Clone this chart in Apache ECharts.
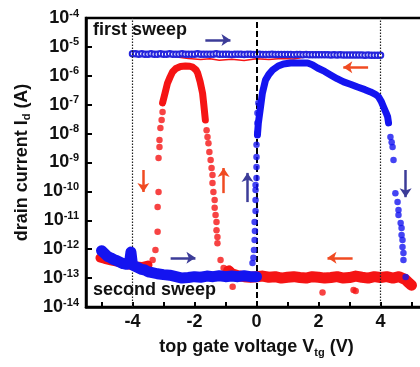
<!DOCTYPE html>
<html>
<head>
<meta charset="utf-8">
<script src="https://cdn.jsdelivr.net/npm/echarts@6/dist/echarts.min.js"></script>
<style>
  html, body { margin: 0; padding: 0; background: #fff; }
  #chart { width: 420px; height: 367px; }
</style>
</head>
<body>
<div id="chart"></div>
<script>
// gate voltage Vtg in V, drain current stored as log10(Id / A)

const xLabelValues = [-4, -2, 0, 2, 4];
const xTickValues = [-5, -4, -3, -2, -1, 0, 1, 2, 3, 4, 5];
const refLinesDashed = [0];
const refLinesDotted = [-4, 4];

// first sweep, blue open circles
const firstBlueV = [-4.0, -3.9, -3.8, -3.7, -3.6, -3.5, -3.4, -3.3, -3.2, -3.1, -3.0, -2.9, -2.8, -2.7, -2.6, -2.5, -2.4, -2.3, -2.2, -2.1,
  -2.0, -1.9, -1.8, -1.7, -1.6, -1.5, -1.4, -1.3, -1.2, -1.1, -1.0, -0.9, -0.8, -0.7, -0.6, -0.5, -0.4, -0.3, -0.2, -0.1,
  0.0, 0.1, 0.2, 0.3, 0.4, 0.5, 0.6, 0.7, 0.8, 0.9, 1.0, 1.1, 1.2, 1.3, 1.4, 1.5, 1.6, 1.7, 1.8, 1.9,
  2.0, 2.1, 2.2, 2.3, 2.4, 2.5, 2.6, 2.7, 2.8, 2.9, 3.0, 3.1, 3.2, 3.3, 3.4, 3.5, 3.6, 3.7, 3.8, 3.9, 4.0];
const firstBlueLog = [-5.24, -5.24, -5.25, -5.24, -5.25, -5.25, -5.24, -5.25, -5.25, -5.24, -5.25, -5.25, -5.24, -5.25, -5.25, -5.25, -5.24, -5.25, -5.25, -5.25,
  -5.25, -5.24, -5.25, -5.25, -5.25, -5.25, -5.25, -5.24, -5.25, -5.25, -5.25, -5.25, -5.26, -5.25, -5.25, -5.25, -5.26, -5.25, -5.25, -5.26,
  -5.26, -5.25, -5.26, -5.26, -5.26, -5.25, -5.26, -5.26, -5.26, -5.26, -5.26, -5.26, -5.27, -5.26, -5.26, -5.27, -5.26, -5.27, -5.27, -5.27,
  -5.27, -5.27, -5.27, -5.27, -5.28, -5.27, -5.28, -5.27, -5.28, -5.28, -5.28, -5.28, -5.28, -5.28, -5.28, -5.29, -5.28, -5.29, -5.29, -5.29, -5.29];

// first sweep, red thin line
const firstRedV = [-4.05, -3.5, -3.0, -2.7, -2.5, -2.2, -1.8, -1.5, -1.2, -0.8, -0.4, 0.0, 0.4, 0.8, 1.2, 1.6, 2.0, 3.0, 4.0];
const firstRedLog = [-5.2, -5.22, -5.24, -5.28, -5.36, -5.4, -5.44, -5.41, -5.46, -5.43, -5.47, -5.41, -5.44, -5.4, -5.42, -5.34, -5.29, -5.28, -5.28];

// second sweep, blue (forward): low-current band, on-state curve, sparse points
const blueBandV = [-5.0, -4.9, -4.8, -4.7, -4.6, -4.5, -4.4, -4.3, -4.2, -4.1, -4.05, -4.0, -3.9, -3.8, -3.7, -3.6, -3.5, -3.4, -3.2, -3.0,
  -2.8, -2.6, -2.4, -2.2, -2.0, -1.8, -1.6, -1.4, -1.2, -1.0, -0.8, -0.6, -0.4, -0.2, 0.0];
const blueBandLog = [-12.05, -12.15, -12.25, -12.3, -12.36, -12.4, -12.45, -12.5, -12.52, -12.5, -12.1, -12.55, -12.6, -12.65, -12.7, -12.72, -12.78, -12.8, -12.85, -12.88,
  -12.9, -12.95, -13.0, -12.98, -12.95, -12.97, -12.93, -12.95, -12.92, -12.95, -12.93, -12.95, -12.92, -12.95, -12.95];
const blueOnV = [0.03, 0.06, 0.13, 0.19, 0.29, 0.4, 0.52, 0.7, 0.87, 1.1, 1.32, 1.65, 1.8, 1.97, 2.2, 2.39, 2.6, 2.81, 3.05, 3.26,
  3.5, 3.68, 3.85, 3.94, 4.03, 4.1, 4.18, 4.23, 4.26];
const blueOnLog = [-8.05, -7.63, -7.08, -6.6, -6.15, -5.95, -5.8, -5.66, -5.59, -5.56, -5.56, -5.56, -5.62, -5.73, -5.85, -5.97, -6.1, -6.21, -6.3, -6.39,
  -6.48, -6.56, -6.65, -6.73, -6.9, -7.08, -7.28, -7.42, -7.63];
const blueDotV = [-0.13, -0.1, -0.08, -0.06, -0.05, -0.06, -0.03, -0.03, -0.03, -0.03, 0.0, 0.0, 0.0, 0.0, 0.03, 0.03, 0.03, 0.06,
  4.32, 4.36, 4.39, 4.42, 4.48, 4.55, 4.58, 4.58, 4.65, 4.68, 4.68, 4.71, 4.71, 4.74, 4.74, 4.81];
const blueDotLog = [-12.48, -12.3, -12.03, -11.68, -11.37, -11.06, -10.68, -10.3, -9.95, -9.78, -9.54, -9.16, -8.81, -8.39, -7.98, -7.63, -7.29, -6.94,
  -8.12, -8.3, -8.46, -8.91, -10.06, -10.37, -10.64, -10.82, -11.09, -11.27, -11.51, -11.68, -11.92, -12.13, -12.37, -12.96];

// second sweep, red (reverse): low-current bands, peak, sparse points
const redBandV = [5.0, 4.9, 4.8, 4.6, 4.4, 4.2, 4.0, 3.8, 3.6, 3.4, 3.2, 3.0, 2.8, 2.6, 2.4, 2.2, 2.0, 1.8, 1.6, 1.4,
  1.2, 1.0, 0.8, 0.6, 0.4, 0.2, 0.0, -0.2, -0.4, -0.6, -0.8, -0.9];
const redBandLog = [-13.25, -13.15, -13.05, -12.95, -13.0, -12.95, -12.98, -12.95, -13.0, -12.97, -12.93, -12.98, -13.0, -12.95, -12.98, -13.0, -12.97, -12.95, -13.0, -12.98,
  -12.95, -12.97, -13.0, -12.95, -12.97, -12.93, -12.95, -12.97, -12.95, -12.92, -12.85, -12.75];
const redLeftBandV = [-3.5, -3.7, -3.9, -4.1, -4.3, -4.5, -4.7, -4.9, -5.05];
const redLeftBandLog = [-12.55, -12.6, -12.58, -12.55, -12.5, -12.45, -12.4, -12.35, -12.3];
const redPeakV = [-3.03, -2.95, -2.87, -2.79, -2.71, -2.6, -2.45, -2.29, -2.15, -2.06, -1.95, -1.9, -1.82, -1.74, -1.7, -1.65];
const redPeakLog = [-6.94, -6.6, -6.25, -6.05, -5.87, -5.75, -5.68, -5.66, -5.67, -5.7, -5.8, -5.9, -6.2, -6.6, -7.0, -7.53];
const redDotV = [-3.03, -3.06, -3.1, -3.13, -3.13, -3.16, -3.16, -3.19, -3.19, -3.26, -3.35, -3.52,
  -1.61, -1.58, -1.55, -1.52, -1.48, -1.45, -1.42, -1.42, -1.39, -1.35, -1.35, -1.32, -1.29, -1.29, -1.26, -1.26,
  -1.16, -1.06, -0.84, -0.77, 2.13, 3.13, 3.2];
const redDotLog = [-7.25, -7.53, -7.81, -8.22, -8.46, -8.84, -10.02, -10.54, -11.4, -12.03, -12.37, -12.55,
  -7.88, -8.12, -8.33, -8.64, -8.91, -9.19, -9.43, -9.71, -10.02, -10.3, -10.57, -10.82, -11.06, -11.34, -11.58, -11.79,
  -12.37, -12.65, -12.72, -13.3, -13.5, -13.41, -13.45];

// sweep direction arrows: [x1, y1, x2, y2]
const blueArrows = [[-1.65, -4.76, -0.84, -4.76], [-0.29, -10.37, -0.29, -9.36], [4.81, -9.26, 4.81, -10.2], [-2.77, -12.3, -1.97, -12.3]];
const redArrows = [[3.6, -5.7, 2.8, -5.7], [-3.65, -9.26, -3.65, -10.02], [-1.06, -10.06, -1.06, -9.19], [3.1, -12.3, 2.29, -12.3]];

const FONT = "'Liberation Sans', Arial, sans-serif";
const BLUE = '#1414f0';
const RED = '#f51414';

const pairs = (xs, ys) => xs.map((x, i) => [x, ys[i]]);
const arrowData = (list) => list.map(a => [{ coord: [a[0], a[1]] }, { coord: [a[2], a[3]] }]);
const vLines = (list) => list.map(v => ({ xAxis: v }));

const chart = echarts.init(document.getElementById('chart'));

chart.setOption({
  animation: false,
  backgroundColor: '#fff',
  grid: {
    left: 86, top: 18, width: 341, height: 289,
    show: true, borderColor: '#000', borderWidth: 2.5,
    containLabel: false, outerBoundsMode: 'none'
  },
  xAxis: {
    type: 'value', min: -5.5, max: 5.5,
    name: '{n|top gate voltage V}{sub|tg}{n| (V)}',
    nameLocation: 'middle', nameGap: 30,
    nameTextStyle: {
      rich: {
        n: { fontFamily: FONT, fontSize: 18, fontWeight: 'bold', color: '#111' },
        sub: { fontFamily: FONT, fontSize: 11, fontWeight: 'bold', color: '#111', padding: [10, 0, 0, 0] }
      }
    },
    axisLine: { onZero: false, lineStyle: { color: '#000', width: 2.5 } },
    axisTick: { inside: true, length: 5, customValues: xTickValues, lineStyle: { color: '#000', width: 2 } },
    axisLabel: { customValues: xLabelValues, margin: 6, fontFamily: FONT, fontSize: 18, fontWeight: 'bold', color: '#111' },
    splitLine: { show: false }
  },
  yAxis: {
    type: 'value', min: -14, max: -4, interval: 1,
    name: '{n|drain current I}{sub|d}{n| (A)}',
    nameLocation: 'middle', nameGap: 46,
    nameTextStyle: {
      rich: {
        n: { fontFamily: FONT, fontSize: 18, fontWeight: 'bold', color: '#111' },
        sub: { fontFamily: FONT, fontSize: 11, fontWeight: 'bold', color: '#111', padding: [10, 0, 0, 0] }
      }
    },
    axisLine: { show: true, onZero: false, lineStyle: { color: '#000', width: 2.5 } },
    axisTick: { inside: true, length: 6, lineStyle: { color: '#000', width: 2 } },
    axisLabel: {
      margin: 7,
      formatter: v => '{b|10}{s|' + v + '}',
      rich: {
        b: { fontFamily: FONT, fontSize: 18, fontWeight: 'bold', color: '#111', lineHeight: 20 },
        s: { fontFamily: FONT, fontSize: 11, fontWeight: 'bold', color: '#111', verticalAlign: 'top', lineHeight: 11 }
      }
    },
    splitLine: { show: false }
  },
  graphic: [
    { type: 'text', left: 93, top: 21, z: 100, style: { text: 'first sweep', font: 'bold 18px ' + FONT, fill: '#111' } },
    { type: 'text', left: 93, top: 281, z: 100, style: { text: 'second sweep', font: 'bold 18px ' + FONT, fill: '#111' } }
  ],
  series: [
    {
      type: 'line', data: [], z: 1,
      markLine: {
        silent: true, symbol: 'none', label: { show: false },
        lineStyle: { color: '#000', width: 2, type: [6, 3] },
        data: vLines(refLinesDashed)
      }
    },
    {
      type: 'line', data: [], z: 1,
      markLine: {
        silent: true, symbol: 'none', label: { show: false },
        lineStyle: { color: '#222', width: 1.2, type: [1.5, 1.5] },
        data: vLines(refLinesDotted)
      }
    },
    {
      type: 'line', data: pairs(firstRedV, firstRedLog), showSymbol: false,
      lineStyle: { color: RED, width: 1.5 }, z: 2
    },
    {
      type: 'line', data: pairs(firstBlueV, firstBlueLog), symbol: 'emptyCircle', symbolSize: 5.5, showSymbol: true,
      lineStyle: { width: 0, opacity: 0 },
      itemStyle: { color: '#2424dc', borderColor: '#2424dc', borderWidth: 1.2 }, z: 3
    },
    { type: 'line', data: pairs(redLeftBandV, redLeftBandLog), showSymbol: false, lineStyle: { color: RED, width: 9, cap: 'round', join: 'round' }, z: 4 },
    { type: 'line', data: pairs(redBandV, redBandLog), showSymbol: false, lineStyle: { color: RED, width: 11, cap: 'round', join: 'round' }, z: 4 },
    { type: 'line', data: pairs(redPeakV, redPeakLog), showSymbol: false, lineStyle: { color: RED, width: 7, cap: 'round', join: 'round' }, z: 4 },
    { type: 'scatter', data: pairs(redDotV, redDotLog), symbolSize: 6.5, itemStyle: { color: RED }, z: 4 },
    { type: 'line', data: pairs(blueBandV, blueBandLog), showSymbol: false, lineStyle: { color: BLUE, width: 11, cap: 'round', join: 'round' }, z: 5 },
    { type: 'line', data: pairs(blueOnV, blueOnLog), showSymbol: false, lineStyle: { color: BLUE, width: 7, cap: 'round', join: 'round' }, z: 5 },
    { type: 'scatter', data: pairs(blueDotV, blueDotLog), symbolSize: 6.5, itemStyle: { color: BLUE }, z: 5 },
    {
      type: 'line', data: [], z: 6,
      markLine: {
        silent: true, symbol: ['none', 'arrow'], symbolSize: [9, 9], label: { show: false },
        lineStyle: { color: '#3c3c98', width: 2.5, type: 'solid' },
        data: arrowData(blueArrows)
      }
    },
    {
      type: 'line', data: [], z: 6,
      markLine: {
        silent: true, symbol: ['none', 'arrow'], symbolSize: [9, 9], label: { show: false },
        lineStyle: { color: '#f04b22', width: 2.5, type: 'solid' },
        data: arrowData(redArrows)
      }
    }
  ]
});
</script>
</body>
</html>
